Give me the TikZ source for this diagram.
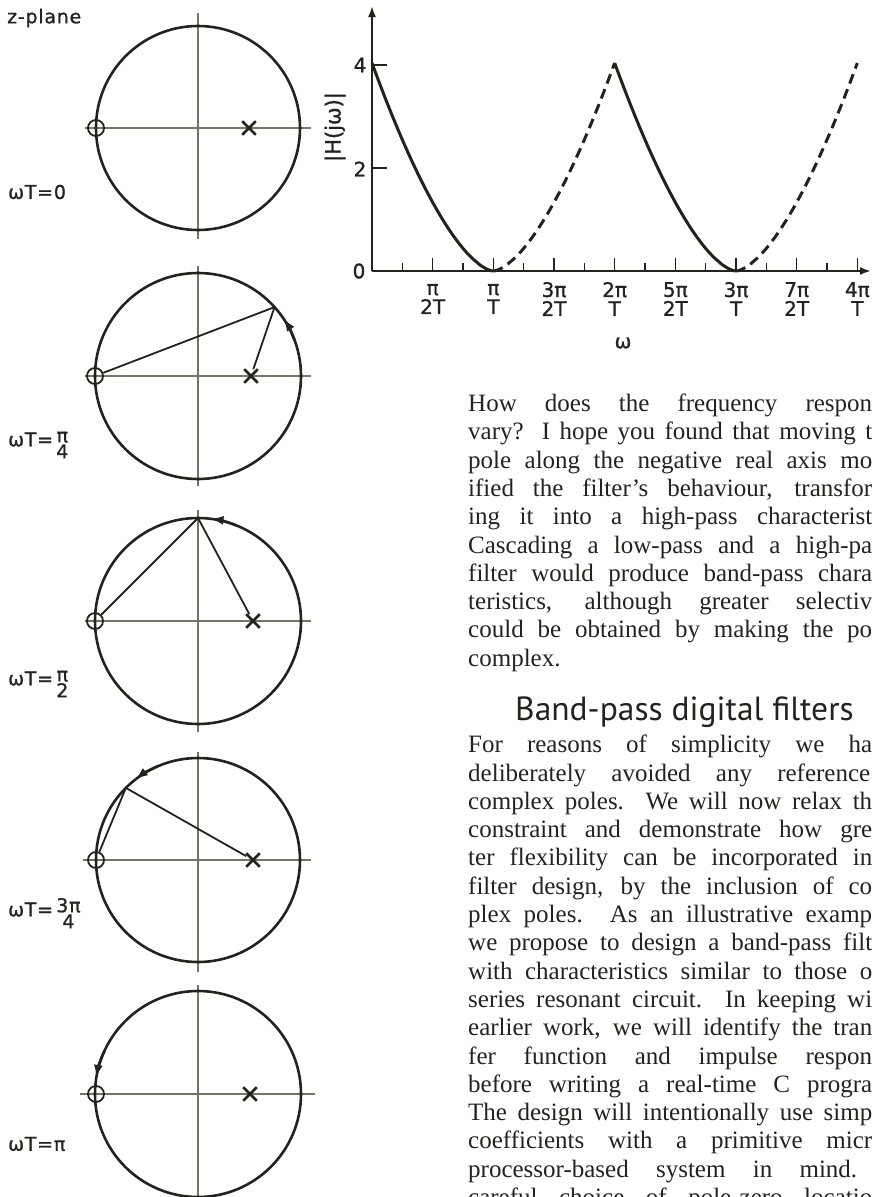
\documentclass[tikz,border=0pt]{standalone}
\usepackage{fontspec}
\setmainfont{Liberation Serif}
\newfontfamily\headfont{PT Sans}
\newfontfamily\letterfont[LetterSpace=4, FakeBold=1]{DejaVu Sans}
\newfontfamily\axisfont[FakeBold=1]{DejaVu Sans}
\usetikzlibrary{arrows.meta,shapes.misc}
\definecolor{ink}{RGB}{35,35,30}
\definecolor{axisgray}{RGB}{115,118,100}
\newcommand{\wfrac}[2]{\,\raisebox{-4pt}{\begin{tabular}{@{}c@{}}#1\\[-5pt]#2\end{tabular}}}
\tikzset{
  unitcircle/.style={draw=ink, line width=2.6pt},
  zaxis/.style={draw=axisgray, line width=1.3pt},
  zeromark/.style={circle, draw=ink, line width=1.8pt, minimum size=16pt, inner sep=0pt},
  polemark/.style={cross out, draw=ink, line width=2.6pt, minimum size=11pt, inner sep=0pt},
  vector/.style={draw=ink, line width=1.8pt},
  sweep/.style={draw=ink, line width=2.6pt, -{Latex[length=13pt,width=9pt]}},
  zlabel/.style={anchor=west, inner sep=0pt, font=\letterfont\fontsize{19}{21}\selectfont, text=ink},
  graxis/.style={draw=ink, line width=2.2pt, -{Latex[length=11pt,width=8pt]}},
  axtick/.style={draw=ink, line width=1.5pt},
  response/.style={draw=ink, line width=3pt},
  aliased/.style={response, dash pattern=on 10pt off 6pt},
  glabel/.style={inner sep=0pt, align=center, font=\axisfont\fontsize{20}{19}\selectfont, text=ink},
  bodyline/.style={anchor=base west, inner sep=0pt, font=\fontsize{25}{28}\selectfont, text=ink},
  headline/.style={anchor=base west, inner sep=0pt, font=\headfont\fontsize{33.5}{36}\selectfont, text=ink},
  declare function={hdist(\t)=abs(mod(\t+180,360)-180);
                    hmag(\t)=4*pow(max(1-hdist(\t)/180,0.0001),1.6);}
}

\begin{document}
\begin{tikzpicture}[x=1pt, y=-1pt]
  \useasboundingbox (0,0) rectangle (872,1197);
  \clip (0,0) rectangle (872,1197);

  % z-plane sketches
  \node[zlabel] (zp) at (7,18) {z-plane};

  % wT = 0
  \coordinate (c1) at (198,128);
  \draw[zaxis] (85,128) -- (311,128);
  \draw[zaxis] (198,13) -- (198,239);
  \draw[unitcircle] (c1) circle[radius=102];
  \node[zeromark] (z1) at (96,128) {};
  \node[polemark] (p1) at (249,128) {};
  \node[zlabel] (t1) at (8,192) {ωT=0};

  % wT = pi/4
  \coordinate (c2) at (198,376);
  \draw[zaxis] (85,376) -- (311,376);
  \draw[zaxis] (198,266) -- (198,486);
  \draw[unitcircle] (c2) circle[radius=103];
  \node[zeromark] (z2) at (95,376) {};
  \node[polemark] (p2) at (251,376) {};
  \path (c2) ++(-42:103) coordinate (w2);
  \draw[vector] (z2) -- (w2);
  \draw[vector] (p2) -- (w2);
  \draw[sweep] (c2) ++(-20:103) arc[start angle=-20, end angle=-34, radius=103];
  \node[zlabel] (t2) at (8,446) {ωT=\wfrac{π}{4}};

  % wT = pi/2
  \coordinate (c3) at (198,621);
  \draw[zaxis] (85,621) -- (311,621);
  \draw[zaxis] (198,510) -- (198,732);
  \draw[unitcircle] (c3) circle[radius=103];
  \node[zeromark] (z3) at (95,621) {};
  \node[polemark] (p3) at (253,621) {};
  \path (c3) ++(-90:103) coordinate (w3);
  \draw[vector] (z3) -- (w3);
  \draw[vector] (p3) -- (w3);
  \draw[sweep] (c3) ++(-68:103) arc[start angle=-68, end angle=-83, radius=103];
  \node[zlabel] (t3) at (8,685) {ωT=\wfrac{π}{2}};

  % wT = 3pi/4
  \coordinate (c4) at (198,860);
  \draw[zaxis] (83,860) -- (311,860);
  \draw[zaxis] (198,752) -- (198,972);
  \draw[unitcircle] (c4) circle[radius=102];
  \node[zeromark] (z4) at (96,860) {};
  \node[polemark] (p4) at (253,860) {};
  \path (c4) ++(-135:102) coordinate (w4);
  \draw[vector] (z4) -- (w4);
  \draw[vector] (p4) -- (w4);
  \draw[sweep] (c4) ++(-113:102) arc[start angle=-113, end angle=-128, radius=102];
  \node[zlabel] (t4) at (8,916) {ωT=\wfrac{3π}{4}};

  % wT = pi
  \coordinate (c5) at (198,1094);
  \draw[zaxis] (80,1094) -- (315,1094);
  \draw[zaxis] (198,985) -- (198,1197);
  \draw[unitcircle] (c5) circle[radius=103];
  \node[zeromark] (z5) at (96,1094) {};
  \node[polemark] (p5) at (250,1094) {};
  \draw[sweep] (c5) ++(-155:103) arc[start angle=-155, end angle=-171, radius=103];
  \node[zlabel] (t5) at (8,1144) {ωT=π};

  % frequency response
  \coordinate (o) at (372,271);
  \coordinate (xe) at (871,271);
  \coordinate (ye) at (372,6);
  \draw[graxis] (o) -- (xe);
  \draw[graxis] (o) -- (ye);
  \draw[axtick] (372,65) -- ++(15,0);
  \draw[axtick] (372,168) -- ++(15,0);
  \foreach \k in {1,3,...,15}
    \draw[axtick] (372+30.33*\k,271) -- ++(0,-8);
  \foreach \k in {2,4,...,16}
    \draw[axtick] (372+30.33*\k,271) -- ++(0,-13);
  \node[glabel] (y4) at (360,65) {4};
  \node[glabel] (y2) at (360,169) {2};
  \node[glabel] (y0) at (359,271) {0};
  \node[glabel, rotate=90, font=\axisfont\fontsize{21}{21}\selectfont] (ylab) at (335,127) {|H(jω)|};
  \foreach \k/\num/\den in {1/π/2T, 2/π/T, 3/3π/2T, 4/2π/T, 5/5π/2T, 6/3π/T, 7/7π/2T, 8/4π/T}
    \node[glabel] (w\k) at (372+60.67*\k,299) {\num\\\den};
  \node[glabel] (wlab) at (623,343) {ω};

  \draw[response] plot[domain=0:180, samples=90, variable=\t] ({372+\t/180*121.33}, {271-52*hmag(\t)});
  \draw[aliased] plot[domain=180:360, samples=90, variable=\t] ({372+\t/180*121.33}, {271-52*hmag(\t)});
  \draw[response] plot[domain=360:540, samples=90, variable=\t] ({372+\t/180*121.33}, {271-52*hmag(\t)});
  \draw[aliased] plot[domain=540:720, samples=90, variable=\t] ({372+\t/180*121.33}, {271-52*hmag(\t)});

  % text column
  \node[bodyline] (a1) at (468,411.5) {\makebox[404pt][s]{How does the frequency respon}};
  \node[bodyline] (a2) at (468,439.8) {\makebox[404pt][s]{vary? I hope you found that moving t}};
  \node[bodyline] (a3) at (468,468.1) {\makebox[404pt][s]{pole along the negative real axis mo}};
  \node[bodyline] (a4) at (468,496.4) {\makebox[404pt][s]{ified the filter’s behaviour, transfor}};
  \node[bodyline] (a5) at (468,524.7) {\makebox[404pt][s]{ing it into a high-pass characterist}};
  \node[bodyline] (a6) at (468,553.0) {\makebox[404pt][s]{Cascading a low-pass and a high-pa}};
  \node[bodyline] (a7) at (468,581.3) {\makebox[404pt][s]{filter would produce band-pass chara}};
  \node[bodyline] (a8) at (468,609.6) {\makebox[404pt][s]{teristics, although greater selectiv}};
  \node[bodyline] (a9) at (468,637.9) {\makebox[404pt][s]{could be obtained by making the po}};
  \node[bodyline] (a10) at (468,666.2) {complex.};

  \node[headline] (hd) at (515,720.7) {Band-pass digital filters};

  \node[bodyline] (b1) at (468,752.7) {\makebox[404pt][s]{For reasons of simplicity we ha}};
  \node[bodyline] (b2) at (468,781.0) {\makebox[402pt][s]{deliberately avoided any reference}};
  \node[bodyline] (b3) at (468,809.3) {\makebox[404pt][s]{complex poles. We will now relax th}};
  \node[bodyline] (b4) at (468,837.6) {\makebox[404pt][s]{constraint and demonstrate how gre}};
  \node[bodyline] (b5) at (468,865.9) {\makebox[404pt][s]{ter flexibility can be incorporated in}};
  \node[bodyline] (b6) at (468,894.2) {\makebox[404pt][s]{filter design, by the inclusion of co}};
  \node[bodyline] (b7) at (468,922.5) {\makebox[404pt][s]{plex poles. As an illustrative examp}};
  \node[bodyline] (b8) at (468,950.8) {\makebox[404pt][s]{we propose to design a band-pass filt}};
  \node[bodyline] (b9) at (468,979.1) {\makebox[404pt][s]{with characteristics similar to those o}};
  \node[bodyline] (b10) at (468,1007.4) {\makebox[404pt][s]{series resonant circuit. In keeping wi}};
  \node[bodyline] (b11) at (468,1035.7) {\makebox[404pt][s]{earlier work, we will identify the tran}};
  \node[bodyline] (b12) at (468,1064.0) {\makebox[404pt][s]{fer function and impulse respon}};
  \node[bodyline] (b13) at (468,1092.3) {\makebox[404pt][s]{before writing a real-time C progra}};
  \node[bodyline] (b14) at (468,1120.6) {\makebox[404pt][s]{The design will intentionally use simp}};
  \node[bodyline] (b15) at (468,1148.9) {\makebox[404pt][s]{coefficients with a primitive micr}};
  \node[bodyline] (b16) at (468,1177.2) {\makebox[389pt][s]{processor-based system in mind.}};
  \node[bodyline] (b17) at (468,1205.5) {\makebox[404pt][s]{careful choice of pole-zero locatio}};
\end{tikzpicture}
\end{document}
